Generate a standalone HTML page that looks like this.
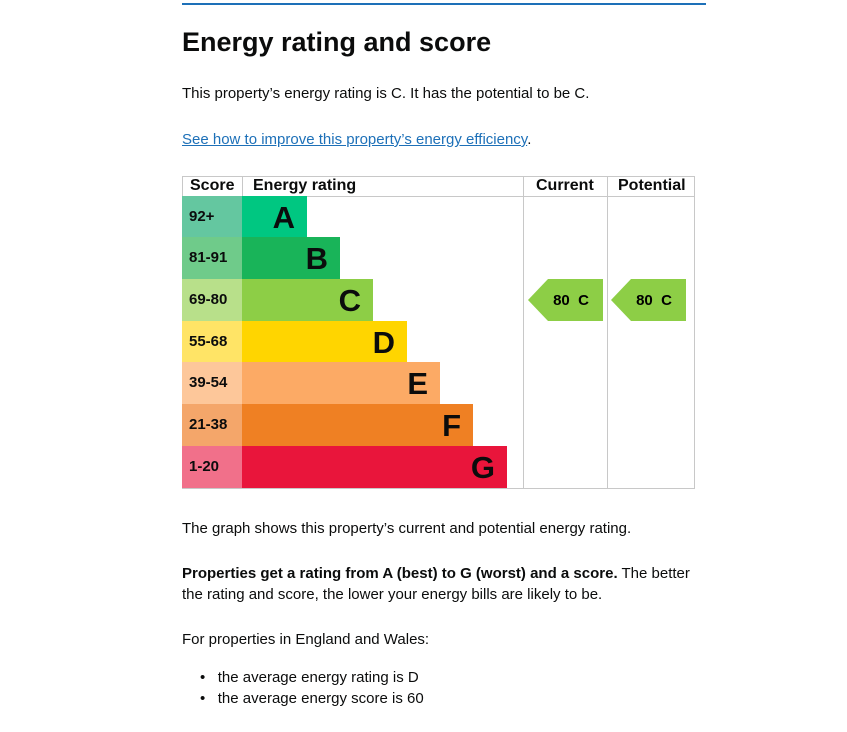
<!DOCTYPE html>
<html><head><meta charset="utf-8"><style>
body{margin:0;width:847px;height:732px;background:#fff;position:relative;font-family:"Liberation Sans",Arial,sans-serif;color:#0b0c0c;overflow:hidden}
.a{position:absolute;white-space:nowrap}
.t{font-size:15px;line-height:20px}
.row{position:absolute;left:182px;height:42px}
.sc{position:absolute;left:0;top:0;width:60px;height:100%;font-weight:bold;font-size:15px;line-height:42px;padding-left:7px;box-sizing:border-box}
.bar{position:absolute;left:60px;top:0;height:100%;font-weight:bold;font-size:31px;line-height:44px;text-align:right;padding-right:12px;box-sizing:border-box}
.hd{position:absolute;top:176px;height:20px;font-weight:bold;font-size:16px;line-height:20px}
</style></head><body>
<div class="a" style="left:182px;top:3px;width:524px;height:2px;background:#1d70b8"></div>
<div class="a" style="left:182px;top:24px;font-size:27px;font-weight:bold;line-height:36px">Energy rating and score</div>
<div class="a t" style="left:182px;top:84px">This property’s energy rating is C. It has the potential to be C.</div>
<div class="a t" style="left:182px;top:130px;color:#1d70b8"><span style="text-decoration:underline">See how to improve this property’s energy efficiency</span><span style="color:#0b0c0c">.</span></div>

<div class="a" style="left:182px;top:176px;width:511px;height:311px;border:1px solid #c8c8c8"></div>
<div class="a" style="left:182px;top:196px;width:512px;height:1px;background:#c8c8c8"></div>
<div class="a" style="left:242px;top:176px;width:1px;height:20px;background:#c8c8c8"></div>
<div class="a" style="left:523px;top:176px;width:1px;height:312px;background:#c8c8c8"></div>
<div class="a" style="left:607px;top:176px;width:1px;height:312px;background:#c8c8c8"></div>
<div class="hd" style="left:190px">Score</div>
<div class="hd" style="left:253px">Energy rating</div>
<div class="hd" style="left:536px">Current</div>
<div class="hd" style="left:618px">Potential</div>

<div class="row" style="top:196px"><div class="sc" style="background:#64c7a0">92+</div><div class="bar" style="width:65px;background:#00c781">A</div></div>
<div class="row" style="top:237px"><div class="sc" style="background:#6fcb8a">81-91</div><div class="bar" style="width:98px;background:#19b459">B</div></div>
<div class="row" style="top:279px"><div class="sc" style="background:#b8e08a">69-80</div><div class="bar" style="width:131px;background:#8dce46">C</div></div>
<div class="row" style="top:321px"><div class="sc" style="background:#ffe466">55-68</div><div class="bar" style="width:165px;background:#ffd500">D</div></div>
<div class="row" style="top:362px"><div class="sc" style="background:#fdc79a">39-54</div><div class="bar" style="width:198px;background:#fcaa65">E</div></div>
<div class="row" style="top:404px"><div class="sc" style="background:#f4a66a">21-38</div><div class="bar" style="width:231px;background:#ef8023">F</div></div>
<div class="row" style="top:446px"><div class="sc" style="background:#f1708a">1-20</div><div class="bar" style="width:265px;background:#e9153b">G</div></div>

<svg class="a" style="left:0;top:0" width="847" height="732">
<polygon points="528,300 548,279 603,279 603,321 548,321" fill="#8dce46"/>
<polygon points="611,300 631,279 686,279 686,321 631,321" fill="#8dce46"/>
<text x="571" y="305" font-family="Liberation Sans,Arial,sans-serif" font-weight="bold" font-size="15" text-anchor="middle" xml:space="preserve">80  C</text>
<text x="654" y="305" font-family="Liberation Sans,Arial,sans-serif" font-weight="bold" font-size="15" text-anchor="middle" xml:space="preserve">80  C</text>
</svg>

<div class="a t" style="left:182px;top:519px">The graph shows this property’s current and potential energy rating.</div>
<div class="a t" style="left:182px;top:564px"><b>Properties get a rating from A (best) to G (worst) and a score.</b> The better</div>
<div class="a t" style="left:182px;top:585px">the rating and score, the lower your energy bills are likely to be.</div>
<div class="a t" style="left:182px;top:630px">For properties in England and Wales:</div>
<div class="a t" style="left:200px;top:668px">•&nbsp;&nbsp;&nbsp;the average energy rating is D</div>
<div class="a t" style="left:200px;top:689px">•&nbsp;&nbsp;&nbsp;the average energy score is 60</div>
</body></html>
